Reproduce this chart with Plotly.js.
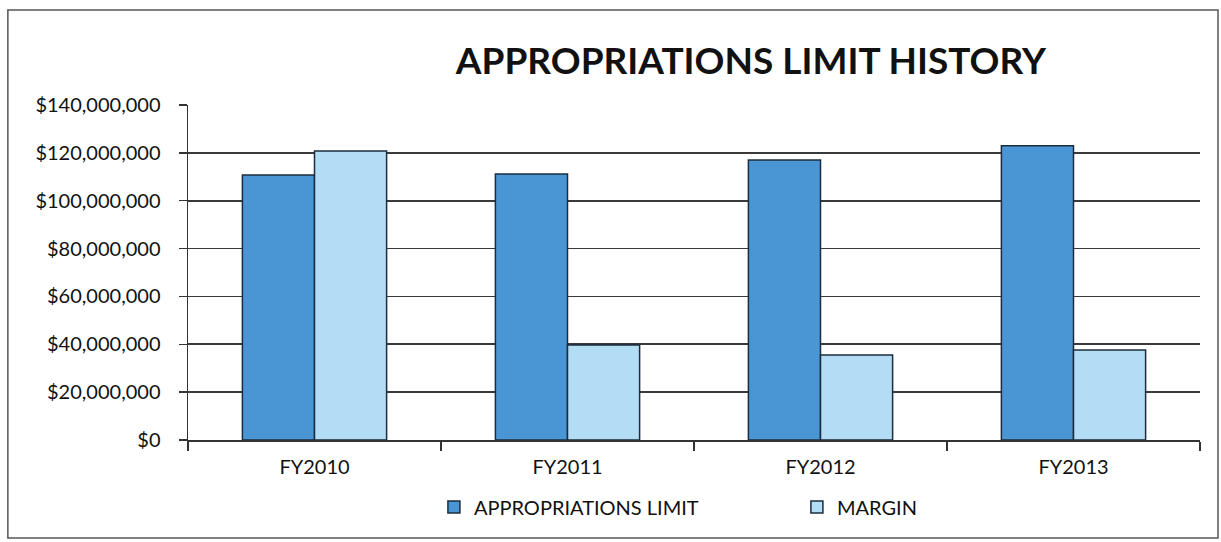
<!DOCTYPE html>
<html>
<head>
<meta charset="utf-8">
<script src="https://cdn.plot.ly/plotly-3.0.1.min.js"></script>
<style>
html,body{margin:0;padding:0;background:#fff;}
#chart{width:1221px;height:542px;}
</style>
</head>
<body>
<div id="chart"></div>
<script>
const categories = ["FY2010", "FY2011", "FY2012", "FY2013"];
const appropriationsLimit = [110700000, 111200000, 117000000, 123000000];
const margin = [120800000, 39700000, 35500000, 37600000];
const yTickVals = [0, 20000000, 40000000, 60000000, 80000000, 100000000, 120000000, 140000000];
const yTickText = ["$0", "$20,000,000", "$40,000,000", "$60,000,000", "$80,000,000", "$100,000,000", "$120,000,000", "$140,000,000"];

const fontFam = "Lato, 'Open Sans', sans-serif";

const traces = [
  {
    type: "bar", name: "APPROPRIATIONS LIMIT", x: categories, y: appropriationsLimit,
    marker: {color: "#4a96d4", line: {color: "#1c2c3c", width: 1.5}}
  },
  {
    type: "bar", name: "MARGIN", x: categories, y: margin,
    marker: {color: "#b3ddf5", line: {color: "#1c2c3c", width: 1.5}}
  }
];

const layout = {
  width: 1221, height: 542,
  margin: {l: 188, r: 21, t: 105, b: 102},
  paper_bgcolor: "#fff", plot_bgcolor: "#fff",
  barmode: "group", bargap: 0.43, bargroupgap: 0,
  title: {text: "<b>APPROPRIATIONS LIMIT HISTORY</b>", x: 0.615, xanchor: "center", y: 0.888, yanchor: "middle",
          font: {family: fontFam, size: 37, color: "#111"}},
  xaxis: {
    showgrid: false, showline: true, linecolor: "#333", linewidth: 1.5,
    ticks: "outside", tickson: "boundaries", ticklen: 9, tickcolor: "#333", tickwidth: 1.5,
    tickfont: {family: fontFam, size: 20, color: "#111"}, fixedrange: true,
    ticklabelstandoff: 8
  },
  yaxis: {
    range: [0, 140000000], tickvals: yTickVals, ticktext: yTickText,
    showgrid: true, gridcolor: "#3a3a3a", gridwidth: 1.6,
    showline: true, linecolor: "#333", linewidth: 1.5,
    ticks: "outside", ticklen: 8, tickcolor: "#333", tickwidth: 1.5,
    tickfont: {family: fontFam, size: 20, color: "#111"}, zeroline: false,
    ticklabelstandoff: 14
  },
  legend: {orientation: "h", x: 0.243, xanchor: "left", y: -0.2, yanchor: "middle",
           font: {family: fontFam, size: 20, color: "#111"}, itemwidth: 30, traceorder: "normal",
           entrywidth: 318},
  showlegend: true,
  shapes: [
    {type: "rect", xref: "paper", yref: "paper", x0: -0.178, x1: 1.0178, y0: -0.2925, y1: 1.2836,
     line: {color: "#555", width: 1.5}, fillcolor: "rgba(0,0,0,0)", layer: "below"}
  ]
};

Plotly.newPlot("chart", traces, layout, {displayModeBar: false, staticPlot: true});
</script>
</body>
</html>
